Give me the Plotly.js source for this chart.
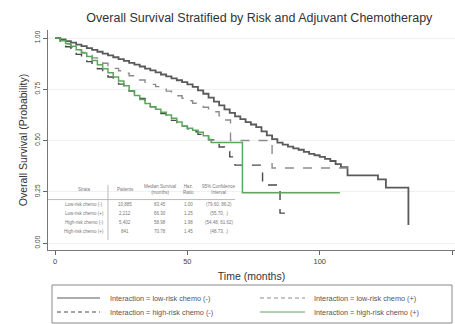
<!DOCTYPE html>
<html>
<head>
<meta charset="utf-8">
<script src="https://cdn.plot.ly/plotly-3.0.1.min.js"></script>
<style>html,body{margin:0;padding:0;background:#fff;}#chart{width:455px;height:324px;}</style>
</head>
<body>
<div id="chart"></div>
<script>
// ---- Data ----
const lowMinusT = [0,2,4,6,8,10,12,14,16,18,20,22,24,26,28,30,32,34,36,38,40,42,44,46,48,50,52,54,56,58,60,62,64,66,68,70,72,74,76,78,80,82,84,86,88,90,92,94,96,98,100,102,104,106,108,110.5,120,122,125,133,133.5];
const lowMinusS = [1,0.993,0.985,0.977,0.968,0.96,0.951,0.942,0.933,0.924,0.915,0.906,0.897,0.888,0.879,0.87,0.861,0.851,0.842,0.832,0.822,0.813,0.803,0.794,0.785,0.774,0.762,0.745,0.728,0.709,0.69,0.671,0.652,0.635,0.618,0.604,0.59,0.578,0.565,0.545,0.525,0.507,0.49,0.48,0.47,0.462,0.455,0.445,0.435,0.428,0.42,0.41,0.40,0.385,0.37,0.33,0.33,0.31,0.27,0.27,0.088];

const lowPlusT = [0,2,4,6,8,10,12,14,16,18,20,22,24,26,28,30,32,34,36,38,40,42,44,46,48,50,52,54,56,58,60,62,64,66.3,82,110.6];
const lowPlusS = [1,0.985,0.97,0.956,0.942,0.929,0.916,0.903,0.89,0.877,0.865,0.852,0.84,0.828,0.816,0.805,0.795,0.784,0.774,0.763,0.752,0.741,0.73,0.718,0.706,0.694,0.682,0.672,0.662,0.651,0.64,0.62,0.60,0.50,0.366,0.366];

const highMinusT = [0,2,4,6,8,10,12,14,16,18,20,22,24,26,28,30,32,34,36,38,40,42,44,46,48,50,52,54,56,58,60,62,64,66,68,78.4,85,89];
const highMinusS = [1,0.977,0.957,0.94,0.92,0.90,0.885,0.868,0.85,0.83,0.81,0.79,0.775,0.758,0.741,0.725,0.705,0.685,0.665,0.648,0.632,0.615,0.598,0.583,0.57,0.557,0.543,0.53,0.517,0.503,0.485,0.468,0.447,0.42,0.38,0.283,0.146,0.146];

const highPlusT = [0,2,4,6,8,10,12,14,16,18,20,22,24,26,28,30,32,34,36,38,40,42,44,46,48,50,52,54,56,58,59,70.8,107.6];
const highPlusS = [1,0.987,0.973,0.96,0.943,0.927,0.91,0.89,0.87,0.85,0.83,0.81,0.79,0.767,0.743,0.72,0.70,0.68,0.665,0.652,0.638,0.625,0.608,0.59,0.57,0.56,0.55,0.54,0.523,0.505,0.49,0.245,0.245];

const seriesNames = [
  "Interaction = low-risk chemo (-)",
  "Interaction = low-risk chemo (+)",
  "Interaction = high-risk chemo (-)",
  "Interaction = high-risk chemo (+)"
];

const xTickVals = [0,50,100,150];
const yTickVals = [0,0.25,0.5,0.75,1];
const yTickText = ["0.00","0.25","0.50","0.75","1.00"];

// embedded summary table
const tableHeader = ["Strata","Patients","Median Survival<br>(months)","Haz.<br>Ratio","95% Confidence<br>Interval"];
const tableStrata = ["Low-risk chemo (-)","Low-risk chemo (+)","High-risk chemo (-)","High-risk chemo (+)"];
const tablePatients = ["10,885","2,212","5,402","841"];
const tableMedian = ["83.45","66.30","58.98","70.78"];
const tableHR = ["1.00","1.25","1.98","1.45"];
const tableCI = ["(79.60, 86.2)","(55.70, .)","(54.48, 61.62)","(48.73, .)"];

// ---- Styles ----
const styles = [
  {color:"#5a5a5a", width:1.8, dash:"solid"},
  {color:"#8c8c8c", width:1.4, dash:"dash"},
  {color:"#4a4a4a", width:1.4, dash:"dash"},
  {color:"#5ea55e", width:1.5, dash:"solid"}
];
const xs = [lowMinusT, lowPlusT, highMinusT, highPlusT];
const ys = [lowMinusS, lowPlusS, highMinusS, highPlusS];
const traces = xs.map((x,i)=>({
  x:x, y:ys[i], type:"scatter", mode:"lines", name:seriesNames[i], showlegend:false,
  line:{shape:"hv", color:styles[i].color, width:styles[i].width, dash:styles[i].dash}
}));

// ---- Geometry helpers (pixel -> paper) ----
const M = {l:48, r:0, t:30, b:74};
const PW = 455 - M.l - M.r, PH = 324 - M.t - M.b;
const px = v => (v - M.l) / PW;
const py = v => (324 - M.b - v) / PH;

// ---- Table annotations ----
const colX = [11, 26.5, 39.5, 50.5, 62];
const hdrY = 0.262;
const rowY = [0.19, 0.146, 0.098, 0.054];
const tf = {family:"Liberation Sans, Arial, sans-serif", size:4.5, color:"#777"};
const annotations = [];
tableHeader.forEach((t,j)=>annotations.push({x:colX[j], y:hdrY, xref:"x", yref:"y", text:t, showarrow:false, font:tf}));
const cols = [tableStrata, tablePatients, tableMedian, tableHR, tableCI];
cols.forEach((col,j)=>col.forEach((t,i)=>annotations.push({x:colX[j], y:rowY[i], xref:"x", yref:"y", text:t, showarrow:false, font:tf})));

const shapes = [
  {type:"line", xref:"x", yref:"y", x0:-2.6, x1:68, y0:0.212, y1:0.212, line:{color:"#aaa", width:0.8}},
  {type:"line", xref:"x", yref:"y", x0:20, x1:20, y0:0.283, y1:0.015, line:{color:"#aaa", width:0.8}}
];

// ---- Legend box (drawn with shapes/annotations) ----
shapes.push({type:"rect", xref:"paper", yref:"paper", x0:px(52), x1:px(452), y0:py(323), y1:py(285), line:{color:"#888", width:1}, fillcolor:"rgba(0,0,0,0)"});
const legPos = [
  {sx0:57, sx1:100, tx:108, y:298},
  {sx0:260, sx1:305, tx:312, y:298},
  {sx0:57, sx1:100, tx:108, y:312},
  {sx0:260, sx1:305, tx:312, y:312}
];
seriesNames.forEach((n,i)=>{
  const p = legPos[i];
  shapes.push({type:"line", xref:"paper", yref:"paper", x0:px(p.sx0), x1:px(p.sx1), y0:py(p.y), y1:py(p.y),
               line:{color:styles[i].color, width:1, dash:styles[i].dash==="dash" ? "4px,3px" : "solid"}});
  annotations.push({xref:"paper", yref:"paper", x:px(p.tx), y:py(p.y), xanchor:"left", yanchor:"middle", text:n, showarrow:false,
                    font:{family:"Liberation Sans, Arial, sans-serif", size:7.3, color:"#555"}});
});

const layout = {
  width:455, height:324,
  margin:{l:M.l, r:M.r, t:M.t, b:M.b, autoexpand:false},
  paper_bgcolor:"#fff", plot_bgcolor:"#fff",
  font:{family:"Liberation Sans, Arial, sans-serif", color:"#333"},
  title:{text:"Overall Survival Stratified by Risk and Adjuvant Chemotherapy", x:0.57, xanchor:"center", y:0.945, yanchor:"middle", font:{size:12.5, color:"#333"}},
  xaxis:{range:[-2.65,151.1], tickvals:xTickVals, ticks:"outside", ticklen:4, tickcolor:"#666",
         showline:true, linecolor:"#777", linewidth:1, showgrid:false, zeroline:false,
         tickfont:{size:7.5, color:"#444"},
         title:{text:"Time (months)", font:{size:10.5, color:"#333"}, standoff:7}},
  yaxis:{range:[-0.034,1.039], tickvals:yTickVals, ticktext:yTickText, tickangle:-90, ticks:"outside", ticklen:4, tickcolor:"#666",
         showline:true, linecolor:"#777", linewidth:1, showgrid:true, gridcolor:"#f0f0f0", zeroline:false,
         tickfont:{size:6.5, color:"#444"},
         title:{text:"Overall Survival (Probability)", font:{size:10.5, color:"#333"}, standoff:4}},
  showlegend:false,
  annotations:annotations, shapes:shapes
};

Plotly.newPlot("chart", traces, layout, {displayModeBar:false, staticPlot:true});
</script>
</body>
</html>
